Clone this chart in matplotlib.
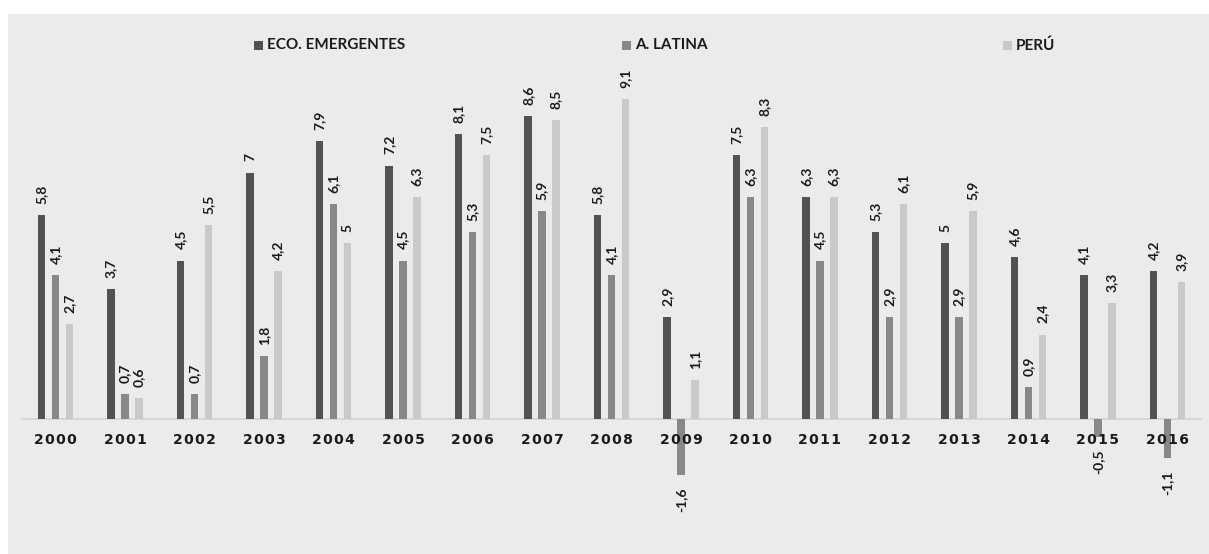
import numpy as np
import matplotlib
matplotlib.use('Agg')
import matplotlib.pyplot as plt
from matplotlib.patches import Rectangle

years = ['2000', '2001', '2002', '2003', '2004', '2005', '2006', '2007', '2008',
         '2009', '2010', '2011', '2012', '2013', '2014', '2015', '2016']
eco_emergentes = [5.8, 3.7, 4.5, 7, 7.9, 7.2, 8.1, 8.6, 5.8, 2.9, 7.5, 6.3, 5.3, 5, 4.6, 4.1, 4.2]
a_latina = [4.1, 0.7, 0.7, 1.8, 6.1, 4.5, 5.3, 5.9, 4.1, -1.6, 6.3, 4.5, 2.9, 2.9, 0.9, -0.5, -1.1]
peru = [2.7, 0.6, 5.5, 4.2, 5, 6.3, 7.5, 8.5, 9.1, 1.1, 8.3, 6.3, 6.1, 5.9, 2.4, 3.3, 3.9]

series_names = ['ECO. EMERGENTES', 'A. LATINA', 'PERÚ']
colores = ['#525252', '#888888', '#c9c9c9']
fondo = '#ebebeb'

W, H = 1209, 554
fig = plt.figure(figsize=(W / 100, H / 100), dpi=100, facecolor='white')

# fondo gris del gráfico
fig.patches.append(Rectangle((8 / W, 0), 1 - 8 / W, 1 - 14 / H, transform=fig.transFigure,
                             facecolor=fondo, edgecolor='none', zorder=-5))

# ejes: cero en y=419px, ~35.2 px por unidad; años cada ~69.5 px
ymin, ymax = -3.5, 11.0
pxu = 35.2
y0 = H - 419
ax_bottom = y0 + ymin * pxu
ax_height = (ymax - ymin) * pxu
x_left = 55.5 - 0.5 * 69.5
x_width = 17 * 69.5
ax = fig.add_axes([x_left / W, ax_bottom / H, x_width / W, ax_height / H], zorder=2)
ax.set_facecolor('none')
ax.set_xlim(-0.5, 16.5)
ax.set_ylim(ymin, ymax)

x = np.arange(len(years))
ancho = 0.108
desp = 0.2
datos = [eco_emergentes, a_latina, peru]

def fmt(v):
    s = ('%g' % v).replace('.', ',')
    return s

for i, serie in enumerate(datos):
    xs = x + (i - 1) * desp
    ax.bar(xs, serie, width=ancho, color=colores[i], zorder=3)
    for xi, v in zip(xs, serie):
        if v >= 0:
            ax.annotate(fmt(v), (xi, v), xytext=(0, 8), textcoords='offset points',
                        rotation=90, ha='center', va='bottom', fontsize=10,
                        fontweight='bold', family=['Lato', 'DejaVu Sans'], color='#1a1a1a')
        else:
            ax.annotate(fmt(v), (xi, v), xytext=(0, -9), textcoords='offset points',
                        rotation=90, ha='center', va='top', fontsize=10,
                        fontweight='bold', family=['Lato', 'DejaVu Sans'], color='#1a1a1a')

ax.axhline(0, color='#d2d2d2', linewidth=1.2, zorder=2, xmin=(22 - x_left) / x_width,
           xmax=(1203 - x_left) / x_width)

for s in ax.spines.values():
    s.set_visible(False)
ax.set_yticks([])
ax.set_xticks([])

# etiquetas de años con espaciado entre letras
for xi, yr in zip(x, years):
    ax.annotate('\u200a'.join(yr), (xi, 0), xytext=(0, -10), textcoords='offset points',
                ha='center', va='top', fontsize=10, fontweight='bold',
                family=['DejaVu Sans'], color='#1a1a1a', zorder=4)

# leyenda
leg_x = [254, 622, 1003]
for lx, nombre, c in zip(leg_x, series_names, colores):
    fig.patches.append(Rectangle((lx / W, (H - 50) / H), 9 / W, 9 / H, transform=fig.transFigure,
                                 facecolor=c, edgecolor='none', zorder=5))
    fig.text((lx + 13) / W, (H - 45.5) / H, nombre, ha='left', va='center', fontsize=11,
             fontweight='bold', family=['Lato', 'DejaVu Sans'], color='#1a1a1a')

fig.savefig('out.png', dpi=100, facecolor=fig.get_facecolor())
